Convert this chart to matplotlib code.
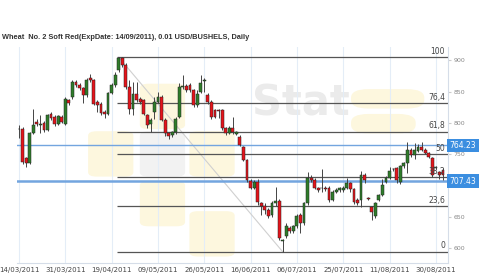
import matplotlib
matplotlib.use('Agg')
import matplotlib.pyplot as plt
from matplotlib.patches import Rectangle, FancyBboxPatch
import matplotlib.transforms as mtransforms
import numpy as np

title = 'Wheat  No. 2 Soft Red(ExpDate: 14/09/2011), 0.01 USD/BUSHELS, Daily'

tick_labels = ['14/03/2011', '31/03/2011', '19/04/2011', '09/05/2011', '26/05/2011',
               '16/06/2011', '06/07/2011', '25/07/2011', '11/08/2011', '30/08/2011']
tick_step = 13

# daily candles: open, high, low, close
opens = [791, 790, 744, 736, 784, 802, 797, 800, 789, 814, 810, 798, 810, 799, 836, 841, 866, 861, 856, 845,
         871, 868, 834, 831, 817, 815, 848, 861, 884, 904, 892, 858, 823, 847, 839, 836, 813, 798, 818, 834,
         841, 805, 784, 781, 785, 810, 858, 859, 861, 852, 829, 850, 867, 845, 834, 821, 820, 821, 792, 784,
         792, 783, 778, 761, 741, 707, 697, 706, 672, 668, 661, 653, 672, 675, 611, 619, 633, 627, 635, 653,
         640, 672, 713, 709, 696, 696, 697, 697, 677, 690, 693, 693, 697, 704, 694, 677, 677, 717, 680, 666,
         651, 677, 685, 706, 713, 726, 728, 706, 731, 736, 757, 749, 756, 762, 757, 752, 744, 728, 722, 725]
highs = [797, 793, 746, 786, 823, 806, 813, 803, 815, 818, 813, 813, 812, 842, 838, 868, 869, 863, 858, 872,
         878, 870, 836, 833, 820, 850, 864, 882, 905, 905, 895, 868, 866, 866, 841, 838, 815, 808, 842, 850,
         844, 808, 786, 787, 809, 863, 876, 862, 864, 854, 852, 877, 871, 848, 836, 823, 822, 823, 794, 795,
         810, 788, 781, 763, 743, 710, 709, 710, 674, 672, 664, 676, 698, 678, 615, 640, 636, 638, 655, 656,
         674, 722, 717, 712, 698, 727, 700, 700, 693, 696, 698, 700, 712, 706, 696, 680, 724, 720, 682, 668,
         674, 687, 711, 715, 730, 729, 730, 733, 738, 769, 760, 768, 767, 770, 760, 754, 746, 732, 724, 728]
lows = [776, 735, 730, 734, 782, 795, 784, 786, 787, 805, 795, 796, 800, 797, 829, 838, 858, 853, 832, 842,
        866, 828, 818, 812, 808, 813, 846, 858, 881, 890, 855, 815, 813, 834, 831, 812, 792, 785, 806, 832,
        803, 779, 775, 778, 782, 808, 855, 850, 849, 826, 826, 848, 850, 830, 806, 808, 808, 789, 781, 782,
        782, 781, 763, 739, 706, 694, 695, 670, 653, 655, 649, 650, 668, 614, 595, 616, 625, 625, 632, 625,
        638, 670, 706, 694, 690, 690, 692, 674, 675, 688, 690, 690, 695, 690, 671, 669, 666, 705, 677, 645,
        649, 675, 683, 704, 711, 723, 704, 703, 729, 720, 746, 743, 754, 755, 750, 744, 714, 726, 710, 709]
closes = [790, 738, 736, 784, 797, 798, 797.5, 789, 813, 808, 798, 811, 802, 838, 832, 866, 861, 856, 845, 868,
          868, 831, 829, 816, 815, 848, 861, 877, 903, 892, 858, 823, 847, 837, 834, 814, 797, 804, 834, 842,
          805, 784, 779, 785, 807, 858, 859, 852, 852, 829, 847, 864, 868, 834, 810, 810, 819, 792, 784, 792,
          785, 786, 765, 741, 709, 697, 706, 674, 668, 661, 652, 672, 675, 616, 613, 636, 627, 635, 652, 640,
          672, 713, 709, 696, 693, 696, 694, 677, 690, 693, 696, 697, 704, 694, 674, 672, 717, 709, 679, 658,
          672, 685, 701, 713, 724, 726, 709, 731, 736, 757, 749, 757, 762, 757, 752, 746, 717, 730, 717, 717]

fib_levels = [100, 76.4, 61.8, 50, 38.2, 23.6, 0]
fib_labels = ['100', '76,4', '61,8', '50', '38,2', '23,6', '0']
fib_high = 904.8
fib_low = 594.7

price_marks = [764.23, 707.43]
price_widths = [1.0, 1.8]

fig = plt.figure(figsize=(5, 2.79), dpi=100)
ax = fig.add_axes([17 / 500, 16 / 279, 431 / 500, 216 / 279])
n = len(opens)
xmin, xmax = -0.56, 120.4
ax.set_xlim(xmin, xmax)
ax.set_ylim(576.7, 921.2)

# watermark
wm = dict(transform=ax.transAxes, zorder=0)
for (x0, y0) in [(0.165, 0.40), (0.285, 0.62), (0.285, 0.17), (0.40, 0.40), (0.40, 0.03)]:
    ax.add_patch(FancyBboxPatch((x0, y0), 0.105, 0.21, boxstyle='round,pad=0,rounding_size=0.02',
                                fc='#fdf7de', ec='none', **wm))
ax.add_patch(FancyBboxPatch((0.285, 0.40), 0.105, 0.21, boxstyle='round,pad=0,rounding_size=0.02',
                            fc='#f2f2f2', ec='none', **wm))
ax.add_patch(FancyBboxPatch((0.775, 0.715), 0.17, 0.09, boxstyle='round,pad=0,rounding_size=0.04',
                            fc='#fdf7de', ec='none', **wm))
ax.add_patch(FancyBboxPatch((0.775, 0.60), 0.15, 0.09, boxstyle='round,pad=0,rounding_size=0.04',
                            fc='#fdf7de', ec='none', **wm))
ax.text(0.545, 0.74, 'Stat', fontsize=30, weight='bold', color='#ebebeb', ha='left', va='center', **wm)

# vertical grid
for k in range(len(tick_labels)):
    ax.axvline(k * tick_step, color='#e4edf7', lw=0.8, zorder=1)

# fibonacci
i_hi = int(np.argmax(highs))
i_lo = int(np.argmin(lows))
ax.plot([i_hi, i_lo], [fib_high, fib_low], color='#d0d0d0', lw=0.8, zorder=2)
for lev, lab in zip(fib_levels, fib_labels):
    p = fib_low + (fib_high - fib_low) * lev / 100
    ax.hlines(p, i_hi - 0.5, xmax, color='#555555', lw=0.9, zorder=2)
    ax.text(xmax - 0.8, p + 2, lab, fontsize=5.5, color='#444444', ha='right', va='bottom', zorder=6)

# price lines
trans = mtransforms.blended_transform_factory(ax.transAxes, ax.transData)
for p, w in zip(price_marks, price_widths):
    ax.axhline(p, color='#73a5df', lw=w, zorder=3)
    ax.text(1.004, p, '%.2f' % p, transform=trans, fontsize=5.5, color='white', ha='left', va='center',
            bbox=dict(boxstyle='square,pad=0.3', fc='#3b8ee0', ec='none'), zorder=7, clip_on=False)

# candles
for i in range(n):
    o, h, l, c = opens[i], highs[i], lows[i], closes[i]
    ax.vlines(i, l, h, color='#444444', lw=0.7, zorder=4)
    col = '#2f7d2a' if c >= o else '#e5141b'
    ax.add_patch(Rectangle((i - 0.4, min(o, c)), 0.8, max(abs(c - o), 0.8),
                           fc=col, ec='#222222', lw=0.35, zorder=5))

ax.set_xticks([k * tick_step for k in range(len(tick_labels))])
ax.set_xticklabels(tick_labels, fontsize=5, color='#444444')
ax.tick_params(axis='x', length=0, pad=3)
ax.yaxis.tick_right()
# 700 sits under the 707.43 box, as in the original
ax.set_yticks([600, 650, 750, 800, 850, 900])
ax.tick_params(axis='y', labelsize=4.5, labelcolor='#888888', length=2, color='#cccccc', pad=2)
for s in ['left', 'top']:
    ax.spines[s].set_visible(False)
for s in ['right', 'bottom']:
    ax.spines[s].set_color('#d5dde8')
    ax.spines[s].set_linewidth(0.8)

fig.text(0.004, 1 - 37.5 / 279, title, fontsize=5.35, weight='bold', family='Liberation Sans',
         color='#333333', va='center')

fig.savefig('out.png', dpi=100)
